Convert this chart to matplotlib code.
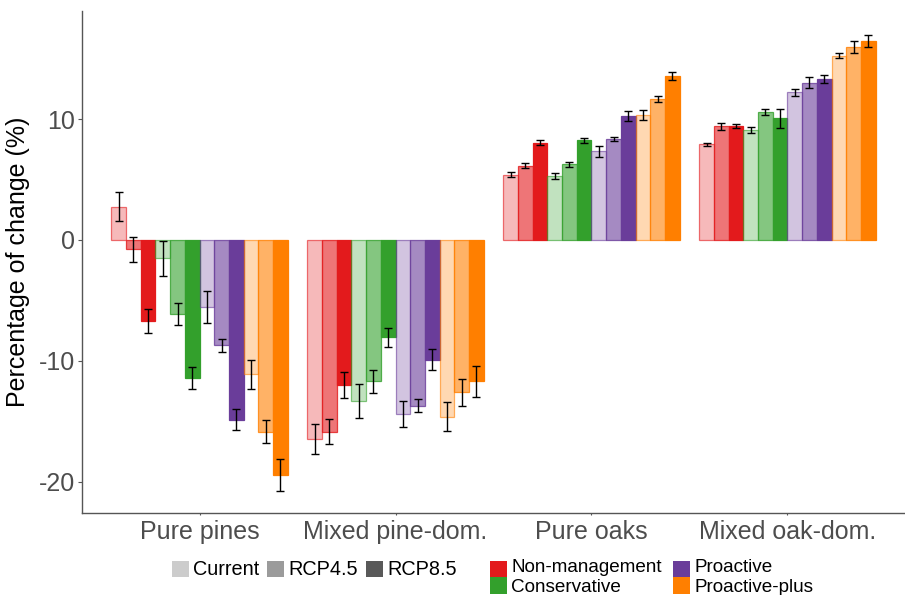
import matplotlib
matplotlib.use("Agg")
import matplotlib.pyplot as plt
from matplotlib.patches import Rectangle
from matplotlib.colors import to_rgba
import numpy as np

plt.rcParams['font.family'] = ['Liberation Sans', 'DejaVu Sans']

groups = ["Pure pines", "Mixed pine-dom.", "Pure oaks", "Mixed oak-dom."]
managements = ["Non-management", "Conservative", "Proactive", "Proactive-plus"]
climates = ["Current", "RCP4.5", "RCP8.5"]

# values ordered: management (NM, Cons, Pro, PP) x climate (Current, RCP4.5, RCP8.5)
pure_pines = [2.75, -0.78, -6.7, -1.5, -6.15, -11.4, -5.55, -8.7, -14.85, -11.1, -15.85, -19.45]
pure_pines_err = [1.2, 1.05, 1.0, 1.45, 0.9, 0.9, 1.3, 0.55, 0.9, 1.2, 0.95, 1.3]
mixed_pine = [-16.45, -15.85, -12.0, -13.3, -11.7, -8.05, -14.4, -13.7, -9.9, -14.6, -12.6, -11.7]
mixed_pine_err = [1.25, 1.05, 1.05, 1.4, 0.95, 0.8, 1.1, 0.55, 0.85, 1.2, 1.1, 1.25]
pure_oaks = [5.4, 6.15, 8.05, 5.3, 6.25, 8.25, 7.35, 8.35, 10.25, 10.35, 11.65, 13.55]
pure_oaks_err = [0.18, 0.23, 0.18, 0.26, 0.18, 0.22, 0.45, 0.15, 0.38, 0.4, 0.28, 0.36]
mixed_oak = [7.9, 9.4, 9.4, 9.1, 10.6, 10.05, 12.2, 13.0, 13.3, 15.25, 15.95, 16.45]
mixed_oak_err = [0.12, 0.3, 0.15, 0.27, 0.25, 0.78, 0.3, 0.47, 0.3, 0.18, 0.47, 0.52]

values = [pure_pines, mixed_pine, pure_oaks, mixed_oak]
errors = [pure_pines_err, mixed_pine_err, pure_oaks_err, mixed_oak_err]

mgmt_colors = ["#E31A1C", "#33A02C", "#6A3D9A", "#FF7F00"]
clim_alpha = [0.3, 0.6, 1.0]
edge_alpha = [0.6, 0.8, 1.0]
key_grey = "#595959"

W, H = 905, 595
fig = plt.figure(figsize=(W / 100, H / 100), dpi=100)
ax = fig.add_axes([82 / W, 1 - 513.3 / H, (W - 82) / W, (513.3 - 11) / H])

n = len(managements) * len(climates)
bw = 0.9 / n
for gi, (vals, errs) in enumerate(zip(values, errors)):
    for k in range(n):
        mi, ci = divmod(k, len(climates))
        x = gi + 1 - 0.45 + bw * (k + 0.5)
        ax.bar(x, vals[k], width=bw,
               facecolor=to_rgba(mgmt_colors[mi], clim_alpha[ci]),
               edgecolor=to_rgba(mgmt_colors[mi], edge_alpha[ci]),
               linewidth=0.9, zorder=2)
        ax.errorbar(x, vals[k], yerr=errs[k], fmt='none', ecolor='black',
                    elinewidth=1.0, capsize=2.8, capthick=1.0, zorder=3)

ax.set_xlim(0.4, 4.6)
ax.set_ylim(-22.6, 18.93)
ax.set_xticks(range(1, len(groups) + 1))
ax.set_xticklabels(groups)
ax.set_yticks([-20, -10, 0, 10])
ax.set_yticklabels(["-20", "-10", "0", "10"])
for s in ["top", "right"]:
    ax.spines[s].set_visible(False)
for s in ["left", "bottom"]:
    ax.spines[s].set_color("#555555")
    ax.spines[s].set_linewidth(1.0)
ax.tick_params(axis='both', colors="#555555", labelcolor="#4D4D4D", labelsize=18)
ax.tick_params(axis='x', length=1.5, pad=3)
ax.tick_params(axis='y', length=3, pad=2)
ax.set_ylabel("Percentage of change (%)", fontsize=18, color="black", labelpad=6)


def px(x, y):
    return x / W, 1 - y / H


def key(x0, y0, color, alpha=1.0, size=16.5):
    fx, fy = px(x0, y0 + size)
    fig.add_artist(Rectangle((fx, fy), size / W, size / H, transform=fig.transFigure,
                             facecolor=color, alpha=alpha, edgecolor='none'))


def label(x0, yc, text, size=14.3):
    fx, fy = px(x0, yc)
    fig.text(fx, fy, text, fontsize=size, va='center', ha='left', color='black')


# climate legend (alpha)
clim_x = [172, 267, 366]
for ci, name in enumerate(climates):
    key(clim_x[ci], 560.5, key_grey, clim_alpha[ci])
    label(clim_x[ci] + 21, 569.5, name)

# management legend (fill)
mg_pos = [(490, 560.5), (490, 577), (673, 560.5), (673, 577)]
mg_text_y = [568.0, 587.0, 568.0, 587.0]
for mi, name in enumerate(managements):
    x0, y0 = mg_pos[mi]
    key(x0, y0, mgmt_colors[mi])
    label(x0 + 21, mg_text_y[mi], name, size=13.6)

fig.savefig("out.png", dpi=100)
